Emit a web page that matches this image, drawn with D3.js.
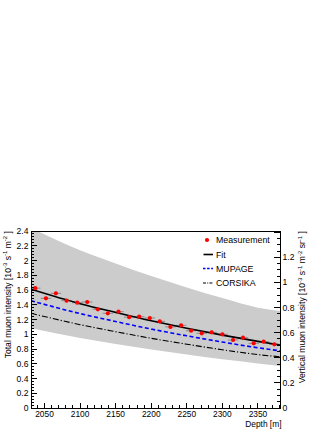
<!DOCTYPE html>
<html>
<head>
<meta charset="utf-8">
<script src="https://cdn.jsdelivr.net/npm/d3@7"></script>
<style>
  body { margin: 0; background: #fff; }
  svg text { font-family: "Liberation Sans", Arial, sans-serif; fill: #000; }
</style>
</head>
<body>
<svg id="chart" width="332" height="429"></svg>
<script>
// measured points
const depth = [2037, 2052, 2066, 2081, 2096, 2110, 2125, 2139, 2154, 2169, 2183, 2198,
               2212, 2227, 2242, 2256, 2271, 2285, 2300, 2315, 2329, 2344, 2358, 2373];
const measured = [1.625, 1.487, 1.555, 1.455, 1.428, 1.437, 1.338, 1.284, 1.306, 1.232, 1.238, 1.22,
                  1.175, 1.10, 1.12, 1.048, 1.013, 1.026, 0.999, 0.922, 0.953, 0.877, 0.899, 0.864];
const depthErr = 7.3;
const measErr = [0.02, 0.02, 0.02, 0.02, 0.02, 0.02, 0.02, 0.02, 0.02, 0.02, 0.02, 0.02,
                 0.02, 0.02, 0.02, 0.02, 0.02, 0.02, 0.02, 0.02, 0.02, 0.02, 0.02, 0.02];

// curves, read at a few depths
const curveDepth = [2031, 2100, 2150, 2200, 2250, 2300, 2350, 2381];
const fit     = [1.61, 1.414, 1.296, 1.183, 1.082, 0.988, 0.903, 0.854];
const mupage  = [1.455, 1.28, 1.173, 1.07, 0.979, 0.894, 0.817, 0.775];
const corsika = [1.284, 1.13, 1.035, 0.945, 0.865, 0.79, 0.724, 0.695];
const bandHi  = [2.44, 2.14, 1.96, 1.79, 1.635, 1.49, 1.36, 1.315];
const bandLo  = [1.08, 0.948, 0.868, 0.793, 0.725, 0.662, 0.605, 0.569];

const xTicks = [2050, 2100, 2150, 2200, 2250, 2300, 2350];
const leftTicks = [0, 0.2, 0.4, 0.6, 0.8, 1, 1.2, 1.4, 1.6, 1.8, 2, 2.2, 2.4];
const rightTicks = [0, 0.2, 0.4, 0.6, 0.8, 1, 1.2];

const frame = {left: 31, right: 280, top: 231, bottom: 408};

const svg = d3.select('#chart');

const x = d3.scaleLinear().domain([2031, 2381]).range([frame.left, frame.right]);
const y = d3.scaleLinear().domain([0, 2.4]).range([frame.bottom, frame.top]);
const yR = d3.scaleLinear().domain([0, 1.41]).range([frame.bottom, frame.top]);

svg.append('clipPath').attr('id', 'clip')
    .append('rect')
    .attr('x', frame.left).attr('y', frame.top)
    .attr('width', frame.right - frame.left).attr('height', frame.bottom - frame.top);

const plot = svg.append('g').attr('clip-path', 'url(#clip)');

// grey band
const band = curveDepth.map((d, i) => ({d, hi: bandHi[i], lo: bandLo[i]}));
plot.append('path')
    .datum(band)
    .attr('fill', '#cccccc')
    .attr('d', d3.area()
        .x(p => x(p.d))
        .y0(p => y(p.lo))
        .y1(p => y(p.hi))
        .curve(d3.curveMonotoneX));

const line = d3.line()
    .x(p => x(p[0]))
    .y(p => y(p[1]))
    .curve(d3.curveMonotoneX);

plot.append('path')
    .datum(d3.zip(curveDepth, corsika))
    .attr('fill', 'none').attr('stroke', '#000').attr('stroke-width', 1.1)
    .attr('stroke-dasharray', '6,2,1.2,2')
    .attr('d', line);

plot.append('path')
    .datum(d3.zip(curveDepth, mupage))
    .attr('fill', 'none').attr('stroke', '#0000ff').attr('stroke-width', 1.6)
    .attr('stroke-dasharray', '4,2.5')
    .attr('d', line);

// error bars
const pts = depth.map((d, i) => ({d, v: measured[i], e: measErr[i]}));
const errs = plot.append('g').attr('stroke', '#8a8a8a').attr('stroke-width', 1);
errs.selectAll('.ex').data(pts).enter().append('line')
    .attr('x1', p => x(p.d - depthErr)).attr('x2', p => x(p.d + depthErr))
    .attr('y1', p => y(p.v)).attr('y2', p => y(p.v));
errs.selectAll('.ey').data(pts).enter().append('line')
    .attr('x1', p => x(p.d)).attr('x2', p => x(p.d))
    .attr('y1', p => y(p.v - p.e)).attr('y2', p => y(p.v + p.e));

plot.append('path')
    .datum(d3.zip(curveDepth, fit))
    .attr('fill', 'none').attr('stroke', '#000').attr('stroke-width', 1.6)
    .attr('d', line);

plot.selectAll('.pt').data(pts).enter().append('circle')
    .attr('cx', p => x(p.d)).attr('cy', p => y(p.v))
    .attr('r', 2.1).attr('fill', '#ff0000');

// frame
svg.append('rect')
    .attr('x', frame.left).attr('y', frame.top)
    .attr('width', frame.right - frame.left).attr('height', frame.bottom - frame.top)
    .attr('fill', 'none').attr('stroke', '#000').attr('stroke-width', 1)
    .attr('shape-rendering', 'crispEdges');

const tickG = svg.append('g').attr('stroke', '#000').attr('stroke-width', 1)
    .attr('shape-rendering', 'crispEdges');

// bottom ticks
d3.range(2040, 2381, 10).forEach(t => {
    const major = xTicks.includes(t);
    tickG.append('line')
        .attr('x1', x(t)).attr('x2', x(t))
        .attr('y1', frame.bottom).attr('y2', frame.bottom - (major ? 5.5 : 2.8));
});
svg.selectAll('.xl').data(xTicks).enter().append('text')
    .attr('x', t => x(t)).attr('y', 416.5)
    .attr('text-anchor', 'middle').attr('font-size', 8.4)
    .text(t => t);
svg.append('text')
    .attr('x', 281.5).attr('y', 426.5)
    .attr('text-anchor', 'end').attr('font-size', 8.4)
    .text('Depth [m]');

// left ticks
d3.range(0, 2.4001, 0.04).forEach(t => {
    const major = Math.abs(t / 0.2 - Math.round(t / 0.2)) < 1e-6;
    tickG.append('line')
        .attr('x1', frame.left).attr('x2', frame.left + (major ? 6 : 3))
        .attr('y1', y(t)).attr('y2', y(t));
});
svg.selectAll('.yl').data(leftTicks).enter().append('text')
    .attr('x', frame.left - 2.5).attr('y', t => y(t) + 3)
    .attr('text-anchor', 'end').attr('font-size', 8.6)
    .text(t => d3.format('~g')(t));

// right ticks
d3.range(0, 1.41, 0.05).forEach(t => {
    const major = Math.abs(t / 0.2 - Math.round(t / 0.2)) < 1e-6;
    tickG.append('line')
        .attr('x1', frame.right).attr('x2', frame.right - (major ? 6 : 3))
        .attr('y1', yR(t)).attr('y2', yR(t));
});
svg.selectAll('.yr').data(rightTicks).enter().append('text')
    .attr('x', frame.right + 2.5).attr('y', t => yR(t) + 3)
    .attr('text-anchor', 'start').attr('font-size', 8.6)
    .text(t => d3.format('~g')(t));

// axis titles with superscripts
function title(xPos, parts) {
    const t = svg.append('text')
        .attr('transform', `translate(${xPos},${frame.top}) rotate(-90)`)
        .attr('text-anchor', 'end').attr('font-size', 8.6);
    parts.forEach(([s, sup]) => {
        if (sup) {
            t.append('tspan').attr('font-size', 6).attr('dy', -3.2).text(s);
            t.append('tspan').attr('dy', 3.2).text(' ');
        } else {
            t.append('tspan').text(s);
        }
    });
}
title(10.5, [['Total muon intensity [10'], ['-3', true], ['s'], ['-1', true], ['m'], ['-2', true], [']']]);
title(305, [['Vertical muon intensity [10'], ['-3', true], ['s'], ['-1', true], ['m'], ['-2', true], ['sr'], ['-1', true], [']']]);

// legend
const legend = svg.append('g');
const legY = [240, 254.5, 268.5, 283];
legend.append('circle').attr('cx', 207).attr('cy', legY[0]).attr('r', 2.1).attr('fill', '#ff0000');
legend.append('line').attr('x1', 203.5).attr('x2', 213).attr('y1', legY[1]).attr('y2', legY[1])
    .attr('stroke', '#000').attr('stroke-width', 1.6);
legend.append('line').attr('x1', 203).attr('x2', 213).attr('y1', legY[2]).attr('y2', legY[2])
    .attr('stroke', '#0000ff').attr('stroke-width', 1.6).attr('stroke-dasharray', '2.5,1.6');
legend.append('line').attr('x1', 203).attr('x2', 213).attr('y1', legY[3]).attr('y2', legY[3])
    .attr('stroke', '#000').attr('stroke-width', 1.1).attr('stroke-dasharray', '3,1.2,1,1.2');
['Measurement', 'Fit', 'MUPAGE', 'CORSIKA'].forEach((s, i) => {
    legend.append('text').attr('x', 216).attr('y', legY[i] + 3.1)
        .attr('font-size', 8.8).text(s);
});
</script>
</body>
</html>
